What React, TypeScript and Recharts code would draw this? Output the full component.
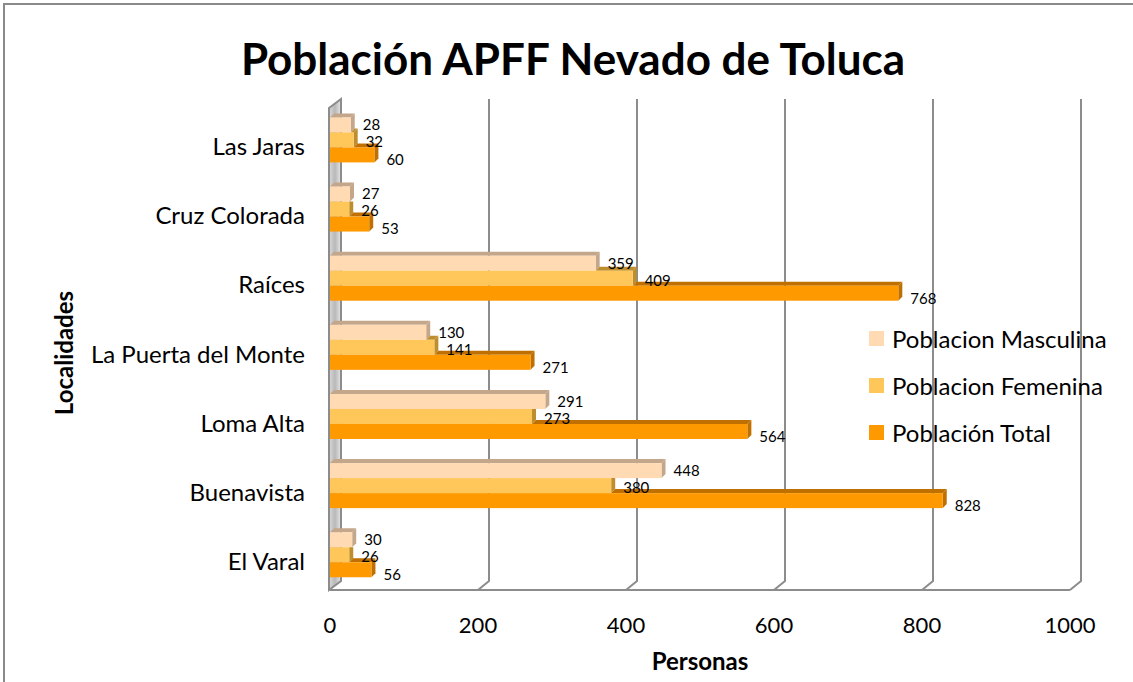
import React from "react";
import {
    BarChart,
    Bar,
    XAxis,
    YAxis,
    Legend,
    LabelList,
    CartesianGrid
} from "recharts";

const localidades = ["Las Jaras", "Cruz Colorada", "Raíces", "La Puerta del Monte", "Loma Alta", "Buenavista", "El Varal"];
const masculina = [28, 27, 359, 130, 291, 448, 30];
const femenina = [32, 26, 409, 141, 273, 380, 26];
const total = [60, 53, 768, 271, 564, 828, 56];
const xTicks = [0, 200, 400, 600, 800, 1000];

const series = [
    { key: "masc", name: "Poblacion Masculina", fill: "#FFDAB3", side: "#C4A68A", prev: null, dy: 0 },
    { key: "fem", name: "Poblacion Femenina", fill: "#FFC65A", side: "#BD8D2E", prev: "masc", dy: 2 },
    { key: "total", name: "Población Total", fill: "#FF9900", side: "#BF7000", prev: "fem", dy: 5 }
];

const data = localidades.map((name, i) => ({
    name,
    masc: masculina[i],
    fem: femenina[i],
    total: total[i]
}));

const FONT = "Lato, 'Open Sans', sans-serif";
const DEPTH = 4;

// bar with a little extruded top and right side, like the old excel 3d bars
const Bar3D = (props: any) => {
    const { x, y, width, height, fill, side, prev, payload, value } = props;
    if (!width || width <= 0) return null;
    const d = DEPTH;
    let prevW = 0;
    if (prev && payload && value) {
        prevW = (width * payload[prev]) / value;
    }
    const topStart = x + Math.min(prevW, width);
    const sideTop = prevW >= width ? y : y - d;
    return (
        <g>
            {topStart < x + width && (
                <polygon
                    points={`${topStart},${y} ${topStart + d},${y - d} ${x + width + d},${y - d} ${x + width},${y}`}
                    fill={side}
                />
            )}
            <polygon
                points={`${x + width},${y} ${x + width + d},${sideTop} ${x + width + d},${y + height - d} ${x + width},${y + height}`}
                fill={side}
            />
            <rect x={x} y={y} width={width} height={height} fill={fill} />
        </g>
    );
};

// gridlines on the back wall, bending down to the floor; first one is the side wall
const WallLine = (props: any) => {
    const { x1, y1, y2, index } = props;
    const top = Math.min(y1, y2);
    const bottom = Math.max(y1, y2);
    const dx = 11;
    const dy = 9;
    if (index === 0) {
        return (
            <g>
                <defs>
                    <linearGradient id="wallGrad" x1="0" y1="0" x2="1" y2="0">
                        <stop offset="0%" stopColor="#d9d9d9" />
                        <stop offset="50%" stopColor="#b8b8b8" />
                        <stop offset="100%" stopColor="#e6e6e6" />
                    </linearGradient>
                </defs>
                <polygon
                    points={`${x1 - 1},${top + 2} ${x1 + dx},${top - 7} ${x1 + dx},${bottom - dy} ${x1 - 1},${bottom}`}
                    fill="url(#wallGrad)"
                    stroke="#8c8c8c"
                    strokeWidth={2}
                />
            </g>
        );
    }
    return (
        <polyline
            points={`${x1 + dx},${top - 7} ${x1 + dx},${bottom - dy} ${x1},${bottom}`}
            fill="none"
            stroke="#8c8c8c"
            strokeWidth={2}
        />
    );
};

const renderLegend = (props: any) => {
    const payload = [...(props.payload || [])].sort(
        (a: any, b: any) =>
            series.findIndex((s) => s.name === a.value) - series.findIndex((s) => s.name === b.value)
    );
    return (
        <div style={{ fontFamily: FONT, fontSize: 24, color: "#000" }}>
            {payload.map((entry: any) => (
                <div key={entry.value} style={{ display: "flex", alignItems: "center", height: 47 }}>
                    <span style={{ width: 15, height: 15, background: entry.color, marginRight: 8, display: "inline-block" }} />
                    <span>{entry.value}</span>
                </div>
            ))}
        </div>
    );
};

const YTitle = (props: any) => {
    const { viewBox } = props;
    const cx = viewBox.x + 63;
    const cy = viewBox.y + viewBox.height / 2 + 5;
    return (
        <text
            x={cx}
            y={cy}
            transform={`rotate(-90, ${cx}, ${cy})`}
            textAnchor="middle"
            dominantBaseline="central"
            fontFamily={FONT}
            fontWeight="bold"
            fontSize={24}
            fill="#000"
        >
            Localidades
        </text>
    );
};

export default function App() {
    return (
        <div style={{ position: "absolute", left: 0, top: 0, width: 1133, height: 682, overflow: "hidden", background: "#fff" }}>
            <div style={{ position: "absolute", left: 3, top: 3, width: 1140, height: 690, border: "2px solid #8a8a8a" }} />
            <div
                style={{
                    position: "absolute",
                    left: 0,
                    width: 1146,
                    top: 32,
                    textAlign: "center",
                    fontFamily: FONT,
                    fontWeight: "bold",
                    fontSize: 44,
                    lineHeight: "52px",
                    color: "#000"
                }}
            >
                Población APFF Nevado de Toluca
            </div>
            <BarChart
                width={1133}
                height={682}
                data={data}
                layout="vertical"
                barCategoryGap="16.5%"
                barGap={0}
                margin={{ top: 106, right: 63, left: 0, bottom: 0 }}
            >
                <CartesianGrid horizontal={false} vertical={(p: any) => <WallLine {...p} />} />
                <XAxis
                    type="number"
                    domain={[0, 1000]}
                    ticks={xTicks}
                    height={92}
                    tickSize={0}
                    tickMargin={27}
                    axisLine={{ stroke: "#8c8c8c", strokeWidth: 2 }}
                    tick={{ fill: "#000", fontSize: 22, fontFamily: FONT }}
                    label={{
                        value: "Personas",
                        position: "insideBottom",
                        offset: 12,
                        style: { fill: "#000", fontSize: 24, fontWeight: "bold", fontFamily: FONT }
                    }}
                />
                <YAxis
                    type="category"
                    dataKey="name"
                    width={330}
                    tickSize={0}
                    tickMargin={25}
                    axisLine={false}
                    tickLine={false}
                    tick={{ fill: "#000", fontSize: 24, fontFamily: FONT, dy: 6 }}
                    label={<YTitle />}
                />
                <Legend
                    layout="vertical"
                    align="center"
                    verticalAlign="middle"
                    wrapperStyle={{ left: 869, top: 315, width: 264 }}
                    content={renderLegend}
                />
                {series.map((s) => (
                    <Bar
                        key={s.key}
                        dataKey={s.key}
                        name={s.name}
                        fill={s.fill}
                        isAnimationActive={false}
                        shape={(p: any) => <Bar3D {...p} fill={s.fill} side={s.side} prev={s.prev} />}
                    >
                        <LabelList
                            dataKey={s.key}
                            position="right"
                            offset={12}
                            dy={s.dy}
                            fill="#000"
                            fontSize={15}
                            fontFamily={FONT}
                        />
                    </Bar>
                ))}
            </BarChart>
        </div>
    );
}
